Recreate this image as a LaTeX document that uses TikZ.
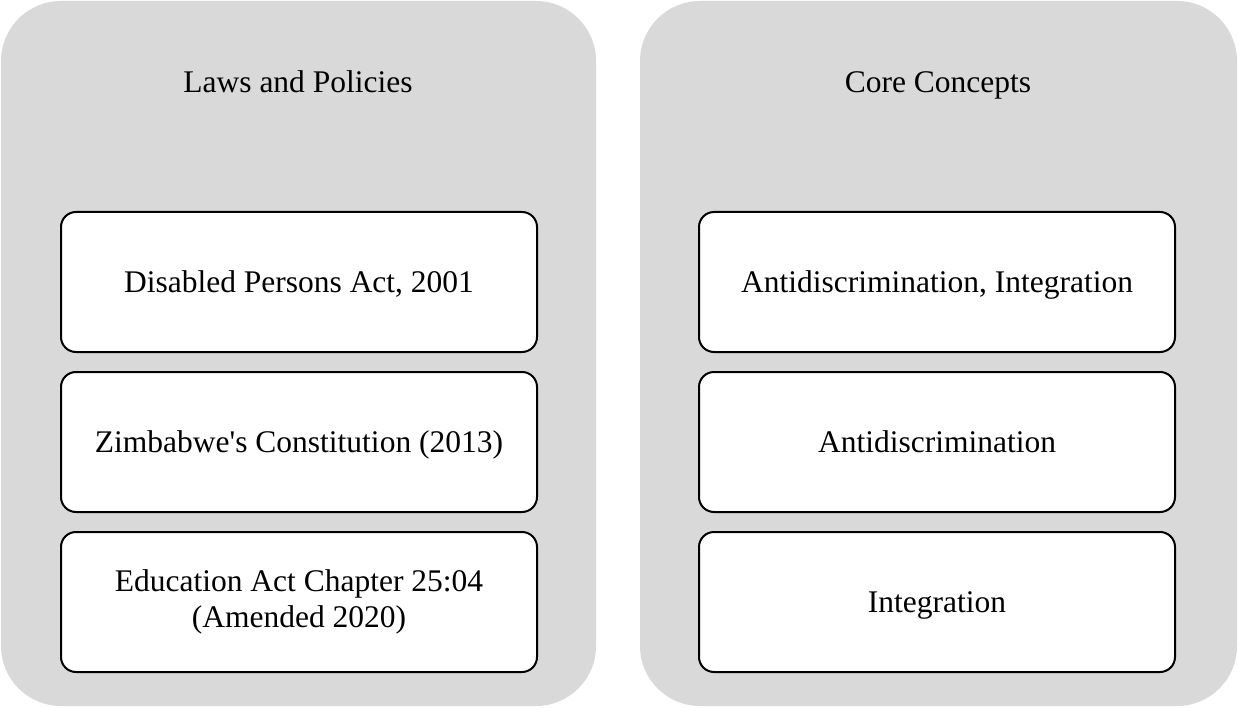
\documentclass[tikz,border=0pt]{standalone}
\usepackage{fontspec}
\setmainfont{Liberation Serif}
\definecolor{panelgray}{HTML}{D9D9D9}
\tikzset{
  panel/.style={fill=panelgray, draw=none, rounded corners=60pt},
  itembox/.style={draw=black, fill=white, line width=2pt, rounded corners=15pt, minimum width=476pt, minimum height=140pt, align=center, inner sep=0pt, font=\fontsize{31.5}{36}\selectfont},
  oneline/.style={text height=22pt, text depth=1pt},
  title/.style={font=\fontsize{31.5}{36}\selectfont, inner sep=0pt, text height=22pt, text depth=1pt}
}
\begin{document}
\begin{tikzpicture}[x=1pt,y=-1pt]
\useasboundingbox (0,0) rectangle (1238,708);
\path[panel] (1,1) rectangle (596,706);
\path[panel] (640,1) rectangle (1237,706);
\node[title] (t1) at (298,82) {Laws and Policies};
\node[title] (t2) at (938,82) {Core Concepts};
\node[itembox, oneline] (l1) at (299,282) {Disabled Persons Act, 2001};
\node[itembox, oneline] (l2) at (299,442) {Zimbabwe\textquotesingle s Constitution (2013)};
\node[itembox] (l3) at (299,602) {Education Act Chapter 25:04\\(Amended 2020)};
\node[itembox, oneline] (r1) at (937,282) {Antidiscrimination, Integration};
\node[itembox, oneline] (r2) at (937,442) {Antidiscrimination};
\node[itembox, oneline] (r3) at (937,602) {Integration};
\end{tikzpicture}
\end{document}
